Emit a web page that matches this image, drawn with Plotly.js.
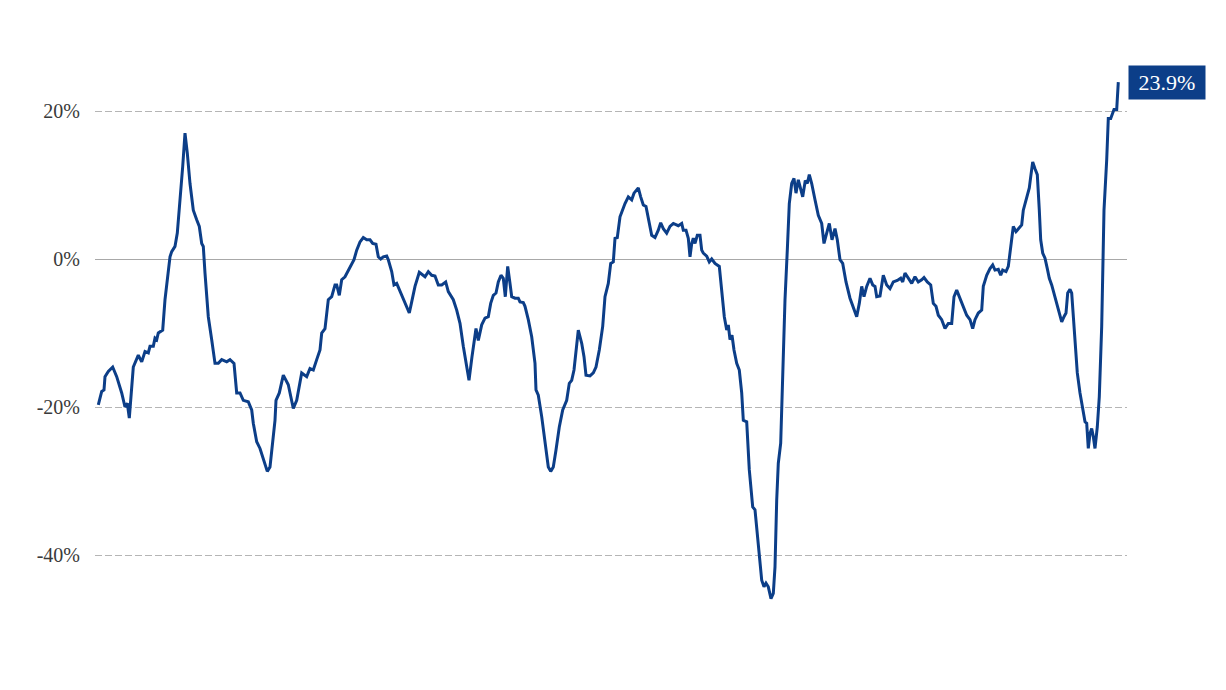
<!DOCTYPE html>
<html>
<head>
<meta charset="utf-8">
<script src="https://cdn.plot.ly/plotly-3.0.1.min.js"></script>
<style>
  html, body { margin: 0; padding: 0; background: #fff; }
  #chart { width: 1226px; height: 690px; }
</style>
</head>
<body>
<div id="chart"></div>
<script>
// time index (arbitrary periods) and year-over-year change in %
const period = [
  98.3, 101.7, 104, 105, 108.3, 112.7, 116.7, 121.7, 125, 127.3,
  129.3, 133.3, 138.3, 141.7, 145, 148.3, 150, 153.3, 155, 156.7,
  158.3, 160.7, 162.7, 165, 168.3, 170, 171.7, 175, 177.3, 180.7,
  182.7, 185, 187.3, 190, 193.3, 196.7, 199.3, 201.7, 203.3, 205,
  208.3, 211.7, 215, 218.3, 221.7, 226.7, 230, 234, 236.7, 240,
  243.3, 248.3, 251.7, 253.3, 256.7, 260, 263.3, 265, 267.3, 270,
  272.7, 275, 276, 279.3, 283.3, 288.3, 293.3, 296.7, 301.7, 306.7,
  310, 313.3, 316.7, 320, 321.7, 325, 328.3, 331.7, 335, 336.7,
  339.3, 341.7, 345, 348.3, 351.7, 354, 356.7, 360, 363.3, 366.7,
  370, 372.7, 376, 378.3, 380.7, 383.3, 386.7, 388.3, 391.7, 394,
  396.7, 400, 403.3, 406.7, 409.3, 411.7, 415, 419.3, 423.3, 425,
  428.3, 431.7, 435, 438.3, 441.7, 445.7, 448.3, 453.3, 456.7, 460,
  463.3, 466, 469, 472, 476, 478.3, 481.7, 485, 488.3, 490.7,
  493.3, 496, 498.3, 501, 503.3, 505.3, 507.7, 510, 511.7, 515,
  518.3, 520, 523.3, 525, 528.3, 531.7, 535, 536, 538.3, 541.7,
  545, 548.3, 550.7, 553.3, 556, 559.3, 562.7, 566.7, 569.3, 571.7,
  574, 576, 578.3, 581.7, 584, 586, 590, 593.3, 596, 599.3,
  602.7, 605, 608.3, 610.7, 613.3, 615, 617.3, 620, 622.7, 625,
  628.3, 631.7, 634, 638.3, 640.7, 643.3, 646, 648.3, 651.7, 655,
  658.3, 660.7, 663.3, 666.7, 670, 673.3, 678.3, 681.7, 683.3, 686,
  688.3, 690, 691.7, 693.3, 695, 697.3, 700, 701.7, 703.3, 706.7,
  709.3, 711.7, 715, 719.3, 721.7, 724.3, 726.7, 728.3, 730, 732,
  734, 736.7, 739.3, 741.7, 743.3, 746.7, 749.3, 752.7, 755, 757.3,
  759.3, 761.7, 764, 766, 768.3, 771, 773.3, 775, 776.7, 778.3,
  780.7, 782.7, 785, 787.3, 789.3, 791.7, 794, 796, 798.3, 800,
  802.7, 805.3, 807.3, 809.3, 811.7, 815, 818.3, 821.7, 824, 826.7,
  829.3, 832, 835, 837.3, 840, 842.7, 846, 850, 853.3, 856.7,
  859.3, 861.7, 864, 866.7, 870, 872.7, 875, 876.7, 880, 883.3,
  886.7, 890, 893.3, 897.3, 900.7, 902.7, 905, 908.3, 911.7, 915,
  918.3, 921.7, 924, 927.3, 930.7, 933.3, 936, 938.3, 941.7, 945,
  948.3, 951.7, 954, 956.7, 960, 963.3, 966.7, 970, 972.7, 975,
  978.3, 981.7, 983.3, 986.7, 990, 992.7, 995, 998.3, 1000.7, 1002.7,
  1006, 1008.3, 1010.7, 1013.3, 1016, 1018.3, 1021.7, 1023.3, 1026.7, 1029.3,
  1030.7, 1032.7, 1035, 1037.3, 1039.3, 1040.7, 1042.7, 1045, 1047.3, 1049.3,
  1051.7, 1055, 1058.3, 1061.7, 1064, 1066, 1067.7, 1070, 1071.7, 1073.3,
  1075, 1077.3, 1080, 1082.7, 1085, 1086.7, 1088.3, 1090, 1091.7, 1093.3,
  1095, 1097.3, 1099.3, 1101.7, 1104, 1106.7, 1108.3, 1110.7, 1112.7, 1114,
  1116.7, 1118.3
];
const changePct = [
  -19.7, -17.9, -17.7, -15.9, -15.2, -14.6, -15.9, -18.1, -20, -19.5,
  -21.5, -14.6, -13, -13.9, -12.5, -12.7, -11.8, -11.8, -10.7, -10.9,
  -10, -9.8, -9.6, -5.5, -1.9, 0.3, 1.0, 1.7, 3.5, 8.9,
  12.5, 17.0, 14.3, 10.2, 6.6, 5.3, 4.4, 2.1, 1.7, -1.9,
  -7.8, -10.9, -14.1, -14.1, -13.6, -13.9, -13.6, -14.1, -18.1, -18.1,
  -19.1, -19.3, -20.4, -22.2, -24.7, -25.6, -26.9, -27.8, -28.7, -28.1,
  -24.9, -21.8, -19.1, -18.1, -15.7, -17.0, -20.2, -19.1, -15.4, -15.9,
  -14.8, -15.0, -13.6, -12.3, -10.0, -9.4, -5.5, -5.1, -3.5, -3.5,
  -4.9, -2.8, -2.4, -1.5, -0.8, -0.1, 1.2, 2.3, 2.9, 2.6,
  2.6, 2.1, 2.0, 0.3, 0, 0.3, 0.4, -0.1, -1.7, -3.5,
  -3.3, -4.4, -5.5, -6.4, -7.3, -5.8, -3.7, -1.8, -2.2, -2.4,
  -1.7, -2.2, -2.3, -3.5, -3.5, -3.1, -4.4, -5.5, -6.9, -8.7,
  -11.8, -14.3, -16.4, -13.2, -9.4, -11.0, -8.9, -8.0, -7.8, -6.0,
  -4.9, -4.6, -3.1, -2.2, -2.6, -5.1, -1.0, -3.3, -5.1, -5.3,
  -5.3, -5.8, -5.9, -6.4, -8.2, -10.5, -14.1, -17.7, -18.4, -21.3,
  -24.5, -28.1, -28.7, -28.1, -25.8, -22.7, -20.4, -19.1, -16.8, -16.4,
  -15.0, -12.7, -9.6, -11.4, -13.2, -15.7, -15.8, -15.4, -14.6, -12.3,
  -9.1, -5.1, -3.3, -0.6, -0.4, 2.8, 2.9, 5.7, 6.8, 7.5,
  8.4, 8.0, 8.9, 9.6, 8.4, 7.3, 7.1, 5.5, 3.2, 2.9,
  3.9, 4.9, 4.1, 3.5, 4.4, 4.8, 4.5, 4.8, 3.9, 3.9,
  2.8, 0.3, 2.1, 2.8, 2.1, 3.2, 3.2, 1.2, 0.8, 0.4,
  -0.4, 0, -0.6, -1.0, -4.2, -7.8, -9.6, -8.9, -10.9, -10.3,
  -12.3, -14.1, -15.0, -18.1, -21.8, -22.0, -28.5, -33.5, -33.9, -37.1,
  -40.7, -43.4, -44.3, -43.8, -44.3, -45.9, -45.2, -41.6, -32.6, -27.6,
  -24.9, -14.6, -5.5, 1.2, 7.5, 10.2, 10.9, 8.9, 10.7, 9.8,
  8.4, 10.6, 10.2, 11.4, 10.2, 8.0, 5.9, 4.8, 2.1, 3.5,
  4.8, 2.6, 4.1, 2.6, -0.1, -0.6, -3.1, -5.3, -6.4, -7.8,
  -6.0, -3.7, -5.1, -3.7, -2.6, -3.5, -3.7, -5.1, -5.0, -2.2,
  -3.5, -4.0, -3.1, -2.9, -2.6, -3.1, -1.9, -2.6, -3.3, -2.4,
  -3.1, -2.8, -2.5, -3.1, -3.5, -6.0, -6.4, -7.6, -8.2, -9.4,
  -8.7, -8.7, -5.1, -4.2, -5.3, -6.4, -7.6, -8.2, -9.4, -8.2,
  -7.3, -6.9, -3.7, -2.2, -1.3, -0.8, -1.5, -1.4, -2.2, -1.5,
  -1.7, -1.0, 1.7, 4.4, 3.7, 4.1, 4.6, 6.6, 8.2, 9.6,
  11.1, 13.1, 12.2, 11.4, 6.6, 2.6, 0.8, 0.1, -1.3, -2.6,
  -3.5, -5.1, -6.9, -8.5, -7.8, -7.3, -4.6, -4.1, -4.6, -7.8,
  -11.4, -15.4, -18.1, -20, -22, -22.2, -25.6, -23.6, -22.9, -24.0,
  -25.6, -22.7, -18.6, -9.1, 6.6, 13.4, 19.0, 19.0, 19.7, 20.2,
  20.2, 23.9
];
const yTickValues = [-40, -20, 0, 20];
const yTickLabels = ['-40%', '-20%', '0%', '20%'];
const lastLabel = '23.9%';

const navy = '#0c3e88';
const serif = '"Liberation Serif", "DejaVu Serif", serif';

const trace = {
  type: 'scatter',
  mode: 'lines',
  x: period,
  y: changePct,
  line: { color: navy, width: 3 },
  hoverinfo: 'skip'
};

const lastIdx = period.length - 1;

const layout = {
  width: 1226,
  height: 690,
  margin: { l: 95, r: 99, t: 37, b: 61 },
  paper_bgcolor: '#ffffff',
  plot_bgcolor: '#ffffff',
  showlegend: false,
  font: { family: serif, color: '#3a3a3a', size: 20 },
  xaxis: {
    range: [95, 1127],
    showgrid: false,
    zeroline: false,
    showticklabels: false,
    showline: false,
    ticks: ''
  },
  yaxis: {
    range: [-50, 30],
    tickvals: yTickValues,
    ticktext: yTickLabels,
    showgrid: true,
    gridcolor: '#b5b5b5',
    gridwidth: 1,
    griddash: '7px,3px',
    zeroline: true,
    zerolinecolor: '#a8a8a8',
    zerolinewidth: 1,
    showline: false,
    ticks: 'outside',
    ticklen: 10,
    tickcolor: 'rgba(0,0,0,0)',
    tickfont: { family: serif, size: 20, color: '#3a3a3a' }
  },
  annotations: [{
    x: period[lastIdx],
    y: changePct[lastIdx],
    xref: 'x',
    yref: 'y',
    text: lastLabel,
    showarrow: false,
    xanchor: 'left',
    yanchor: 'middle',
    xshift: 10,
    bgcolor: navy,
    borderpad: 2,
    width: 72,
    height: 29,
    align: 'center',
    valign: 'middle',
    font: { family: serif, size: 22, color: '#ffffff' }
  }]
};

Plotly.newPlot('chart', [trace], layout, { displayModeBar: false, staticPlot: true });
</script>
</body>
</html>
